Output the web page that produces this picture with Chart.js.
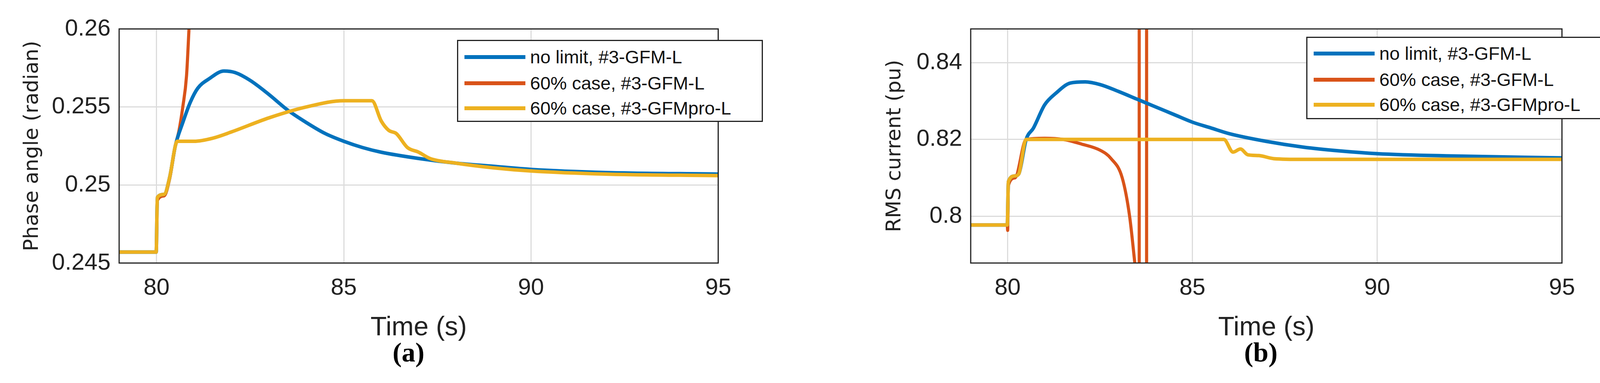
<!DOCTYPE html>
<html>
<head>
<meta charset="utf-8">
<script src="https://cdn.jsdelivr.net/npm/chart.js@4/dist/chart.umd.min.js"></script>
<style>
  body { margin: 0; width: 4140px; height: 980px; background: #fff; position: relative; overflow: hidden; }
  .box { position: absolute; }
  .legend { position: absolute; border: 3px solid #222; background: #fff; box-sizing: border-box; }
  .row { position: absolute; left: 0; height: 60px; font: 47px "Liberation Sans Narrow", "Liberation Sans", sans-serif; color: #111; white-space: nowrap; }
  .row span.ln { position: absolute; top: 25px; height: 10px; }
  .row span.tx { position: absolute; top: 0; line-height: 60px; }
  .cap { position: absolute; top: 862px; font: bold 70px "Liberation Serif", serif; }
</style>
</head>
<body>
<div class="box" style="left:0;top:0;width:1900px;height:980px"><canvas id="phase"></canvas></div>
<div class="box" style="left:2070px;top:0;width:1990px;height:980px"><canvas id="rms"></canvas></div>
<div class="legend" id="leg1" style="left:1170px;top:102px;width:783px;height:210px"></div>
<div class="legend" id="leg2" style="left:3344px;top:94px;width:783px;height:211px"></div>
<div class="cap" style="left:1005px">(a)</div>
<div class="cap" style="left:3185px">(b)</div>
<script>
const seriesNames = ['no limit, #3-GFM-L', '60% case, #3-GFM-L', '60% case, #3-GFMpro-L'];
const seriesColors = ['#0072BD', '#D95319', '#EDB120'];
const xTicks = [80, 85, 90, 95];
const phaseTicks = [0.245, 0.25, 0.255, 0.26];
const rmsTicks = [0.8, 0.82, 0.84];

// (a) phase angle
const phaseNoLimit = [[79,0.2457],[79.99,0.2457],[80.02,0.2492],[80.2,0.2494],[80.35,0.2505],[80.5,0.2525],[80.7,0.2540],[80.9,0.2553],[81.1,0.2562],[81.4,0.2568],[81.8,0.2573],[82.1,0.2572],[82.5,0.2567],[83,0.2558],[83.5,0.2548],[84,0.2540],[84.5,0.2533],[85,0.2528],[85.5,0.2524],[86,0.2521],[87,0.2517],[88,0.2514],[89,0.2512],[90,0.2510],[92,0.2508],[95,0.2507]];
const phase60 = [[79,0.2457],[79.99,0.2457],[80.02,0.2490],[80.2,0.2493],[80.35,0.2504],[80.5,0.2525],[80.6,0.2535],[80.7,0.2550],[80.8,0.2570],[80.87,0.2602]];
const phasePro = [[79,0.2457],[79.99,0.2457],[80.02,0.2492],[80.2,0.2494],[80.35,0.2505],[80.5,0.2525],[80.55,0.2528],[81,0.2528],[81.5,0.2530],[82,0.2534],[83,0.2543],[84,0.2550],[85,0.2554],[85.75,0.2554],[86.0,0.2541],[86.2,0.2535],[86.4,0.2533],[86.7,0.2524],[87,0.2521],[87.3,0.2517],[88,0.2514],[89,0.2511],[90,0.2509],[92,0.2507],[95,0.2506]];

// (b) RMS current
const rmsNoLimit = [[79,0.7977],[79.99,0.7977],[80.02,0.809],[80.2,0.8105],[80.3,0.811],[80.5,0.820],[80.7,0.823],[81,0.829],[81.3,0.832],[81.7,0.8347],[82.1,0.835],[82.5,0.8343],[83,0.8325],[83.5,0.8305],[84,0.8285],[84.5,0.8265],[85,0.8245],[85.5,0.823],[86,0.8215],[87,0.8195],[88,0.818],[89,0.817],[90,0.8163],[92,0.8157],[95,0.8152]];
const rms60 = [[79,0.7977],[79.99,0.7977],[80.0,0.7963],[80.02,0.808],[80.2,0.810],[80.5,0.820],[81,0.8203],[81.5,0.820],[82,0.8188],[82.5,0.8172],[82.8,0.815],[83.1,0.810],[83.3,0.800],[83.45,0.787],[83.5,null],[83.56,0.787],[83.56,0.852],[83.66,null],[83.76,0.852],[83.76,0.787]];
const rmsPro = [[79,0.7977],[79.99,0.7977],[80.02,0.809],[80.2,0.8105],[80.3,0.811],[80.5,0.820],[85.85,0.820],[86.1,0.8167],[86.3,0.8175],[86.5,0.816],[86.8,0.8158],[87.2,0.815],[88,0.8148],[95,0.8148]];

const narrow = '"Liberation Sans Narrow", "Liberation Sans", sans-serif';

const boxPlugin = {
    id: 'box',
    afterDraw(chart) {
        const a = chart.chartArea, c = chart.ctx;
        c.save();
        c.strokeStyle = '#222';
        c.lineWidth = 3;
        c.strokeRect(a.left, a.top, a.right - a.left, a.bottom - a.top);
        c.restore();
    }
};

function makeChart(id, sets, yMin, yMax, yTicks, yTitle, yWidth, titlePad, rightPad) {
    new Chart(document.getElementById(id), {
        type: 'line',
        data: {
            datasets: sets.map((s, i) => ({
                label: seriesNames[i],
                data: s.map(p => ({x: p[0], y: p[1]})),
                borderColor: seriesColors[i],
                borderWidth: i == 1 ? 8 : 9,
                pointRadius: 0,
                cubicInterpolationMode: 'monotone',
                spanGaps: false,
                order: i == 1 ? 3 : (i == 0 ? 2 : 1)
            }))
        },
        options: {
            responsive: true,
            maintainAspectRatio: false,
            animation: false,
            layout: { padding: { top: 74, right: rightPad, bottom: 100, left: 0 } },
            plugins: { legend: { display: false }, tooltip: { enabled: false } },
            scales: {
                x: {
                    type: 'linear', min: 79, max: 95,
                    afterBuildTicks: s => { s.ticks = xTicks.map(v => ({value: v})); },
                    afterFit: s => { s.height = 207; },
                    grid: { color: '#dcdcdc', lineWidth: 3, tickLength: 0 },
                    border: { display: false },
                    ticks: { color: '#222', padding: 28, font: { family: narrow, size: 60 } },
                    title: { display: true, text: 'Time (s)', color: '#222', padding: 0, font: { family: narrow, size: 68 } }
                },
                y: {
                    min: yMin, max: yMax,
                    afterBuildTicks: s => { s.ticks = yTicks.map(v => ({value: v})); },
                    afterFit: s => { s.width = yWidth; },
                    grid: { color: '#dcdcdc', lineWidth: 3, tickLength: 0 },
                    border: { display: false },
                    ticks: { color: '#222', padding: 22, font: { family: narrow, size: 60 },
                        callback: v => String(+v.toFixed(3)) },
                    title: { display: true, text: yTitle, color: '#222', padding: { top: titlePad, bottom: 0 },
                        font: { family: '"DejaVu Sans", sans-serif', size: 52 } }
                }
            }
        },
        plugins: [boxPlugin]
    });
}

makeChart('phase', [phaseNoLimit, phase60, phasePro], 0.245, 0.26, phaseTicks, 'Phase angle (radian)', 305, 52, 55);
makeChart('rms', [rmsNoLimit, rms60, rmsPro], 0.7878, 0.8488, rmsTicks, 'RMS current (pu)', 415, 190, 35);

function buildLegend(id, rowTops) {
    const el = document.getElementById(id);
    seriesNames.forEach((n, i) => {
        const r = document.createElement('div');
        r.className = 'row';
        r.style.top = rowTops[i] + 'px';
        r.innerHTML = '<span class="ln" style="left:16px;width:156px;background:' + seriesColors[i] + '"></span>' +
            '<span class="tx" style="left:184px">' + n + '</span>';
        el.appendChild(r);
    });
}
buildLegend('leg1', [11, 78, 142]);
buildLegend('leg2', [10, 77, 141]);
</script>
</body>
</html>
